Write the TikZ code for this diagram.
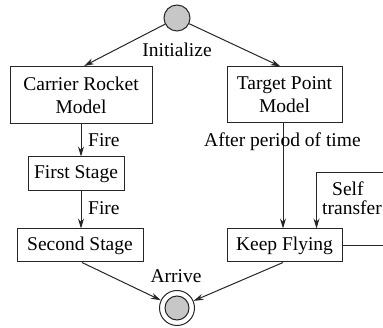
\documentclass[tikz,border=0pt]{standalone}
\usepackage{fontspec}
\setmainfont{Liberation Serif}
\usetikzlibrary{arrows.meta}
\begin{document}
\begin{tikzpicture}[x=1pt,y=-1pt,
  every node/.style={font=\fontsize{19.5}{23}\selectfont, inner sep=0pt},
  box/.style={draw=black!85, line width=1pt, align=center},
  lbl/.style={anchor=base west},
  conn/.style={draw=black!85, line width=1pt},
  arr/.style={conn, -{Stealth[length=10pt,width=6pt]}},
]
\useasboundingbox (0,0) rectangle (383,328);
\clip (0,0) rectangle (383,328);
% start / end
\node[circle, draw=black!85, line width=1pt, fill=black!22, minimum size=26pt] (start) at (177,18) {};
\node[circle, draw=black!85, line width=1pt, fill=white, minimum size=35pt] (end) at (177,308) {};
\node[circle, draw=black!85, line width=1pt, fill=black!22, minimum size=24pt] (endin) at (177,308) {};
% boxes
\node[box, minimum width=142pt, minimum height=57pt] (carrier) at (81,95) {Carrier Rocket\\Model};
\node[box, minimum width=115pt, minimum height=56pt] (target) at (284.5,95) {Target Point\\Model};
\node[box, minimum width=96pt, minimum height=34pt] (first) at (76,174) {First Stage};
\node[box, minimum width=126pt, minimum height=33pt] (second) at (80,245.5) {Second Stage};
\node[box, minimum width=115pt, minimum height=33pt] (keep) at (284.5,245.5) {Keep Flying};
% free ends of self transfer
\coordinate (selfA) at (383,245.5);
\coordinate (selfB) at (383,173);
% connectors
\draw[arr] (start) -- ([xshift=3pt]carrier.north);
\draw[arr] (start) -- ([xshift=-4pt]target.north);
\draw[arr] (carrier.south) -- (carrier.south |- first.north);
\draw[arr] (carrier.south |- first.south) -- (carrier.south |- second.north);
\draw[arr] ([xshift=-1.5pt]target.south) -- ([xshift=-1.5pt]keep.north);
\draw[conn] (keep.east) -- (selfA);
\draw[arr] (selfB) -| ([xshift=32pt]keep.north);
\draw[arr] ([xshift=2pt]second.south) -- (end);
\draw[arr] ([xshift=-1.5pt]keep.south) -- (end);
% labels
\node[anchor=base] (linit) at (177,57) {Initialize};
\node[lbl] (lfire1) at (88,147) {Fire};
\node[lbl] (lfire2) at (88,215) {Fire};
\node[lbl] (lafter) at (204,147) {After period of time};
\node[lbl] (lself) at (332,196) {Self};
\node[lbl] (ltrans) at (322,215) {transfer};
\node[anchor=base] (larrive) at (176,283) {Arrive};
\end{tikzpicture}
\end{document}
